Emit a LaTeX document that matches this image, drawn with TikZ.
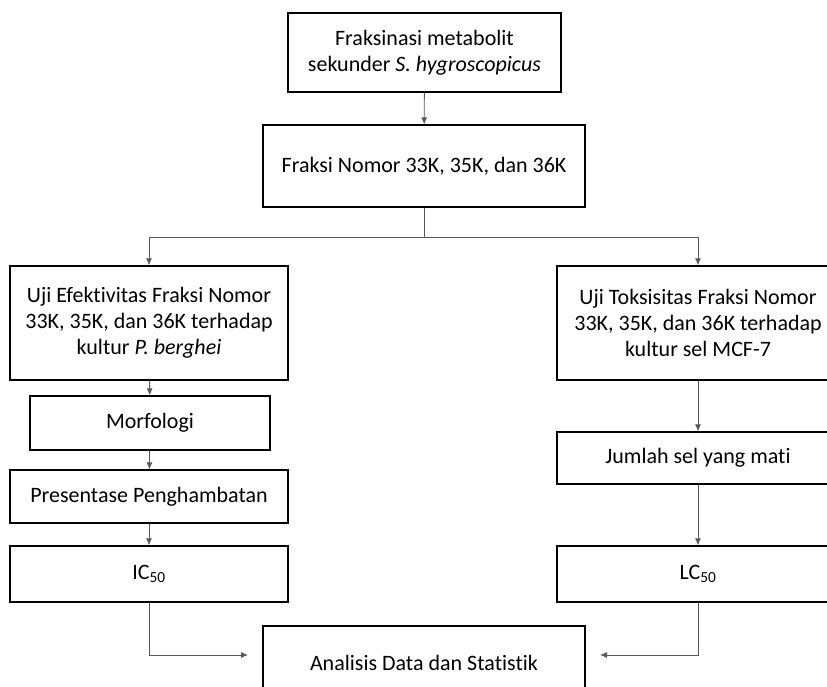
\documentclass[tikz,border=0pt]{standalone}
\usepackage{fontspec}
\setmainfont{Carlito}[Ligatures=NoCommon]
\usetikzlibrary{positioning,calc,arrows.meta}

\begin{document}
\begin{tikzpicture}[->,>={Latex[length=7pt,width=6pt]},x=1pt,y=-1pt,
  every node/.append style={font=\fontsize{22}{26}\selectfont}]
  \tikzstyle{box} = [draw=black,line width=1.2pt,align=center,inner sep=0pt,minimum width=278pt,minimum height=53pt]
  \tikzstyle{line} = [draw=black!65,line width=0.9pt]
  \useasboundingbox[-] (0,0) rectangle (827,686);
  \clip[-] (0,0) rectangle (827,686);
  % top of the chart
  \node (1_1) [box,minimum width=273pt,minimum height=79pt] at (424.5,52.5) {Fraksinasi metabolit\\sekunder \textit{S. hygroscopicus}};
  \node (1_2) [box,minimum width=322pt,minimum height=82pt] at (424,166) {Fraksi Nomor 33K, 35K, dan 36K};
  % left branch
  \node (1_3) [box,minimum height=114pt] at (149,323) {Uji Efektivitas Fraksi Nomor\\33K, 35K, dan 36K terhadap\\kultur \textit{P. berghei}};
  \node (1_5) [box,minimum width=240pt,minimum height=54pt] at (150,423) {Morfologi};
  \node (1_6) [box] at (149,496.5) {Presentase Penghambatan};
  \node (1_7) [box,minimum height=56pt] at (149,574) {IC\textsubscript{50}};
  % right branch
  \node (1_4) [box,minimum width=282pt,minimum height=114pt] at (698,323) {Uji Toksisitas Fraksi Nomor\\33K, 35K, dan 36K terhadap\\kultur sel MCF-7};
  \node (1_8) [box,minimum width=282pt,minimum height=52pt] at (698,458) {Jumlah sel yang mati};
  \node (1_9) [box,minimum width=282pt,minimum height=56pt] at (698,574) {LC\textsubscript{50}};
  % bottom
  \node (1_10) [box,minimum width=322pt,minimum height=74pt] at (424,663) {Analisis Data dan Statistik};
  \coordinate (split) at (424,237);
  \coordinate (in_l) at (248,655);
  \coordinate (in_r) at (600,655);
  \draw[line] (1_1) -- (1_2);
  \draw[line,-] (1_2.south) -- (split);
  \draw[line] (split) -| (1_3.north);
  \draw[line] (split) -| (1_4.north);
  \draw[line] (1_3) -- (1_5);
  \draw[line] (1_5) -- (1_6);
  \draw[line] (1_6) -- (1_7);
  \draw[line] (1_4) -- (1_8);
  \draw[line] (1_8) -- (1_9);
  \draw[line] (1_7.south) |- (in_l);
  \draw[line] (1_9.south) |- (in_r);
\end{tikzpicture}
\end{document}
